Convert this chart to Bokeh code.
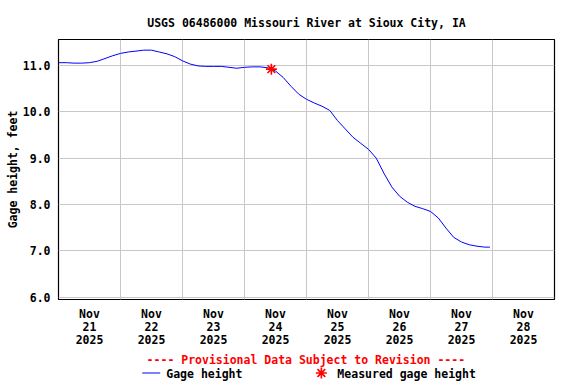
from bokeh.plotting import figure
from bokeh.models import Range1d, FixedTicker
from bokeh.layouts import column
from bokeh.core.properties import value
from bokeh.embed import file_html
from bokeh.resources import INLINE

# Hours since Nov 21 2025 00:00
hours = [0, 3, 6, 9, 12, 15, 18, 21, 24, 27, 30, 33, 36, 39, 42, 45, 48, 51, 54, 57,
         60, 63, 66, 69, 72, 75, 78, 81, 84, 87, 90, 93, 96, 99, 102, 105, 108, 111,
         114, 117, 120, 123, 126, 129, 132, 135, 138, 141, 144, 147, 150, 153, 156,
         159, 162, 165, 167]
gage_height = [11.06, 11.06, 11.05, 11.05, 11.06, 11.09, 11.15, 11.21, 11.26, 11.29,
               11.31, 11.33, 11.33, 11.29, 11.25, 11.19, 11.10, 11.03, 10.99, 10.98,
               10.98, 10.98, 10.96, 10.94, 10.96, 10.97, 10.97, 10.95, 10.88, 10.74,
               10.55, 10.38, 10.27, 10.19, 10.12, 10.03, 9.81, 9.63, 9.45, 9.32, 9.19,
               9.00, 8.67, 8.38, 8.18, 8.05, 7.96, 7.91, 7.85, 7.71, 7.49, 7.29, 7.19,
               7.13, 7.10, 7.08, 7.08]
measured_hours = [82.4]
measured_height = [10.92]

day_labels = ["Nov\n21\n2025", "Nov\n22\n2025", "Nov\n23\n2025", "Nov\n24\n2025",
              "Nov\n25\n2025", "Nov\n26\n2025", "Nov\n27\n2025", "Nov\n28\n2025"]
y_ticks = [6, 7, 8, 9, 10, 11]
legend_labels = ["Gage height", "Measured gage height"]
notice = "---- Provisional Data Subject to Revision ----"

FONT = "DejaVu Sans Mono"
FS = "11.5px"

p = figure(width=576, height=350, output_backend="svg", toolbar_location=None,
           x_range=Range1d(0, 192), y_range=Range1d(5.95, 11.56),
           min_border_left=58, min_border_right=22, min_border_top=39,
           min_border_bottom=50, background_fill_color="white")

p.title.text = "USGS 06486000 Missouri River at Sioux City, IA"
p.title.align = "center"
p.title.text_font = FONT
p.title.text_font_size = FS
p.title.text_font_style = "bold"
p.title.text_color = "black"
p.title.offset = 0
p.title.standoff = 20

p.outline_line_color = "black"
p.outline_line_width = 1.2
p.outline_line_alpha = 1

# Grids
p.xgrid.ticker = FixedTicker(ticks=[24 * i for i in range(1, 8)])
p.ygrid.ticker = FixedTicker(ticks=y_ticks)
for g in (p.xgrid, p.ygrid):
    g.grid_line_color = "#c8c8c8"
    g.grid_line_width = 1

# X axis
xa = p.xaxis[0]
x_ticks = [12 + 24 * i for i in range(len(day_labels))]
xa.ticker = FixedTicker(ticks=x_ticks)
xa.major_label_overrides = {t: lab for t, lab in zip(x_ticks, day_labels)}
xa.axis_line_color = None
xa.major_tick_line_color = None
xa.minor_tick_line_color = None
xa.major_tick_out = 0
xa.major_tick_in = 0
xa.minor_tick_out = 0
xa.major_label_text_font = FONT
xa.major_label_text_font_size = FS
xa.major_label_text_font_style = "bold"
xa.major_label_text_color = "black"
xa.major_label_text_line_height = 0.95
xa.major_label_standoff = 7

# Y axis
ya = p.yaxis[0]
ya.ticker = FixedTicker(ticks=y_ticks)
ya.major_label_overrides = {t: f"{t:.1f}" for t in y_ticks}
ya.axis_line_color = None
ya.major_tick_line_color = None
ya.minor_tick_line_color = None
ya.major_tick_out = 0
ya.major_tick_in = 0
ya.minor_tick_out = 0
ya.major_label_text_font = FONT
ya.major_label_text_font_size = FS
ya.major_label_text_font_style = "bold"
ya.major_label_text_color = "black"
ya.major_label_standoff = 8
ya.axis_label = "Gage height, feet"
ya.axis_label_text_font = FONT
ya.axis_label_text_font_size = FS
ya.axis_label_text_font_style = "bold"
ya.axis_label_text_color = "black"
ya.axis_label_standoff = 0

p.line(hours, gage_height, line_color="#0000ff", line_width=1)
p.scatter(measured_hours, measured_height, marker="asterisk", size=11,
          line_color="#ff0000", line_width=1.6)

# Footer: notice and legend. Its frame is aligned with the main frame, so the
# ranges are set to page-pixel coordinates of that frame (y downward).
f = figure(width=576, height=34, output_backend="svg", toolbar_location=None,
           x_range=Range1d(58.3, 554), y_range=Range1d(384, 350),
           min_border_left=58, min_border_right=22, min_border_top=0,
           min_border_bottom=0, x_axis_type=None, y_axis_type=None)
f.grid.visible = False
f.outline_line_color = None

f.text(x=[305.5], y=[359], text=[notice], text_color="#ff0000",
       text_font=value(FONT), text_font_size=FS, text_font_style="bold",
       text_align="center", text_baseline="middle")
f.line(x=[142, 160], y=[372.5, 372.5], line_color="#0000ff", line_width=1)
f.scatter(x=[321], y=[372.5], marker="asterisk", size=11,
          line_color="#ff0000", line_width=1.6)
f.text(x=[166, 337], y=[373, 373], text=legend_labels, text_color="black",
       text_font=value(FONT), text_font_size=FS, text_font_style="bold",
       text_align="left", text_baseline="middle")

layout = column(p, f, spacing=0)
open("out.html", "w").write(file_html(layout, INLINE))
